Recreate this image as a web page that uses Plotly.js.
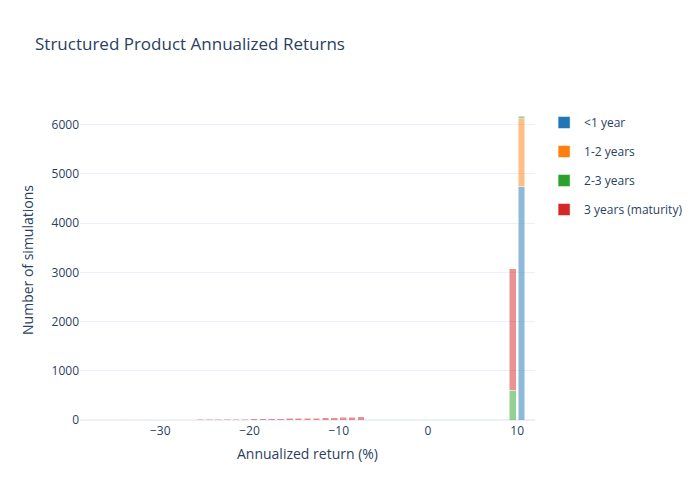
<!DOCTYPE html>
<html>
<head>
<meta charset="utf-8">
<script src="https://cdn.plot.ly/plotly-3.0.1.min.js"></script>
<style>
    body { margin: 0; background: #fff; }
    #chart { width: 700px; height: 500px; }
</style>
</head>
<body>
<div id="chart"></div>
<script>
// Histogram bins are 1 % wide; x values are bin centres, y values are counts
const seriesNames = ['<1 year', '1-2 years', '2-3 years', '3 years (maturity)'];
const seriesColors = ['#1f77b4', '#ff7f0e', '#2ca02c', '#d62728'];

const lessThan1Bins = [10.5];
const lessThan1Counts = [4740];

const oneToTwoBins = [10.5];
const oneToTwoCounts = [1380];

const twoToThreeBins = [9.5, 10.5];
const twoToThreeCounts = [605, 55];

const maturityBins = [
    -38.5, -37.5, -36.5, -35.5, -34.5, -33.5, -32.5, -31.5, -30.5, -29.5, -28.5, -27.5, -26.5,
    -25.5, -24.5, -23.5, -22.5, -21.5, -20.5, -19.5, -18.5, -17.5, -16.5, -15.5, -14.5,
    -13.5, -12.5, -11.5, -10.5, -9.5, -8.5, -7.5, 9.5
];
const maturityCounts = [
    1, 1, 1, 1, 1, 2, 2, 2, 3, 3, 3, 4, 5,
    12, 13, 15, 16, 18, 20, 22, 24, 26, 29, 31, 34,
    37, 40, 44, 48, 54, 60, 68, 2470
];

const xs = [lessThan1Bins, oneToTwoBins, twoToThreeBins, maturityBins];
const ys = [lessThan1Counts, oneToTwoCounts, twoToThreeCounts, maturityCounts];

const data = seriesNames.map((name, i) => ({
    type: 'bar',
    name: name,
    legendgroup: name,
    x: xs[i],
    y: ys[i],
    width: 0.75,
    marker: { color: seriesColors[i], opacity: 0.5, line: { color: '#ffffff', width: 0.5 } }
}));

const layout = {
    width: 700,
    height: 500,
    barmode: 'stack',
    paper_bgcolor: '#ffffff',
    plot_bgcolor: '#ffffff',
    font: { color: '#2a3f5f', size: 12 },
    title: { text: 'Structured Product Annualized Returns', x: 0.05, font: { size: 17 } },
    margin: { t: 100, r: 80, b: 80, l: 80 },
    legend: { traceorder: 'grouped', tracegroupgap: 10, y: 0.975 },
    xaxis: {
        title: { text: 'Annualized return (%)', font: { size: 14 }, standoff: 10 },
        range: [-39, 12],
        automargin: true,
        showgrid: false,
        zeroline: false,
        linecolor: '#EBF0F8',
        ticks: ''
    },
    yaxis: {
        title: { text: 'Number of simulations', font: { size: 14 }, standoff: 14 },
        range: [0, 6503],
        dtick: 1000,
        automargin: true,
        gridcolor: '#EBF0F8',
        zerolinecolor: '#EBF0F8',
        zerolinewidth: 2,
        ticks: ''
    }
};

Plotly.newPlot('chart', data, layout, { displayModeBar: false });
</script>
</body>
</html>
